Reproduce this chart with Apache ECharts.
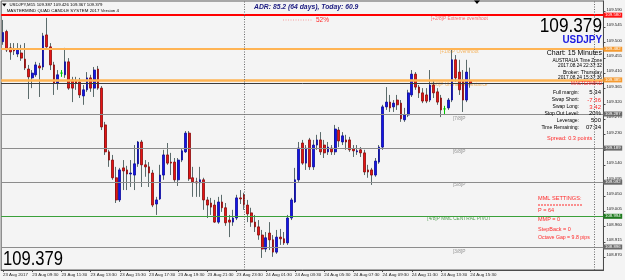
<!DOCTYPE html>
<html><head><meta charset="utf-8">
<style>html,body{margin:0;padding:0;background:#f4f4f4}#c{width:625px;height:280px}</style>
<script src="https://cdn.jsdelivr.net/npm/echarts@6/dist/echarts.min.js"></script>
</head><body><div id="c"></div>
<script>
// ---- DATA (USDJPY M15, 23 Aug 07:30 -> 24 Aug 15:30) ----
const openP = [109.502,109.532,109.484,109.481,109.466,109.469,109.451,109.422,109.396,109.405,109.431,109.428,109.522,109.487,109.434,109.381,109.410,109.405,109.443,109.390,109.387,109.384,109.343,109.361,109.396,109.366,109.422,109.366,109.258,109.179,109.155,109.103,109.038,109.132,109.126,109.114,109.111,109.144,109.208,109.141,109.135,109.117,109.026,109.041,109.111,109.170,109.149,109.149,109.097,109.155,109.179,109.234,109.103,109.091,109.088,109.097,109.038,109.029,109.023,108.973,109.032,109.015,108.979,108.973,108.985,109.044,109.053,109.023,109.000,108.973,108.959,108.935,108.894,108.941,108.921,108.885,108.929,108.924,108.912,108.985,109.032,109.097,109.205,109.146,109.214,109.135,109.199,109.214,109.199,109.179,109.190,109.179,109.243,109.208,109.214,109.214,109.188,109.179,109.185,109.176,109.126,109.126,109.111,109.149,109.193,109.311,109.325,109.311,109.331,109.322,109.273,109.287,109.346,109.407,109.369,109.352,109.346,109.331,109.375,109.355,109.337,109.305,109.308,109.331,109.449,109.413,109.390,109.331,109.387];
const closeP = [109.529,109.478,109.472,109.475,109.481,109.454,109.425,109.399,109.410,109.434,109.425,109.519,109.487,109.434,109.381,109.405,109.410,109.443,109.366,109.366,109.381,109.346,109.361,109.396,109.366,109.419,109.366,109.252,109.179,109.155,109.103,109.038,109.126,109.123,109.114,109.117,109.144,109.208,109.141,109.135,109.117,109.023,109.038,109.111,109.170,109.146,109.146,109.097,109.155,109.182,109.234,109.100,109.091,109.088,109.097,109.038,109.023,109.017,108.973,109.032,109.015,108.971,108.973,108.985,109.044,109.041,109.023,108.997,108.973,108.959,108.935,108.894,108.927,108.921,108.885,108.929,108.924,108.912,108.985,109.038,109.097,109.190,109.146,109.190,109.135,109.199,109.214,109.179,109.176,109.193,109.179,109.246,109.211,109.226,109.208,109.185,109.182,109.182,109.176,109.120,109.120,109.111,109.152,109.193,109.311,109.325,109.308,109.322,109.317,109.276,109.287,109.352,109.407,109.369,109.352,109.328,109.328,109.375,109.352,109.325,109.302,109.305,109.331,109.449,109.396,109.361,109.331,109.413,109.379];
const lowP = [109.493,109.472,109.449,109.463,109.457,109.446,109.419,109.334,109.366,109.399,109.340,109.419,109.484,109.419,109.346,109.361,109.399,109.396,109.361,109.325,109.361,109.337,109.317,109.355,109.355,109.340,109.361,109.243,109.170,109.135,109.097,109.029,109.032,109.067,109.067,109.076,109.067,109.135,109.076,109.106,109.076,109.017,108.994,109.038,109.097,109.141,109.111,109.091,109.079,109.149,109.176,109.094,109.047,109.047,109.047,109.009,108.985,108.994,108.971,108.968,109.003,108.962,108.929,108.962,108.979,109.026,109.009,108.973,108.959,108.944,108.921,108.868,108.885,108.891,108.871,108.880,108.906,108.906,108.906,108.979,109.029,109.091,109.141,109.126,109.126,109.126,109.185,109.170,109.161,109.170,109.170,109.170,109.193,109.199,109.185,109.179,109.164,109.170,109.164,109.111,109.103,109.082,109.106,109.144,109.185,109.302,109.296,109.296,109.302,109.267,109.267,109.281,109.340,109.361,109.337,109.322,109.322,109.325,109.337,109.317,109.281,109.287,109.302,109.325,109.384,109.346,109.296,109.325,109.367];
const highP = [109.566,109.537,109.498,109.498,109.498,109.493,109.498,109.434,109.419,109.443,109.440,109.528,109.572,109.498,109.443,109.419,109.419,109.484,109.454,109.399,109.399,109.396,109.375,109.413,109.405,109.428,109.431,109.372,109.267,109.185,109.170,109.135,109.132,109.155,109.138,109.155,109.199,109.211,109.214,109.155,109.149,109.126,109.047,109.141,109.185,109.205,109.176,109.161,109.161,109.190,109.240,109.240,109.135,109.103,109.135,109.103,109.047,109.044,109.038,109.047,109.053,109.029,108.994,109.009,109.053,109.067,109.059,109.038,109.015,108.994,108.979,108.950,108.944,108.973,108.935,108.950,108.953,108.944,108.994,109.044,109.132,109.208,109.214,109.199,109.220,109.214,109.229,109.237,109.214,109.208,109.199,109.258,109.252,109.237,109.229,109.223,109.199,109.199,109.193,109.185,109.141,109.132,109.161,109.199,109.317,109.369,109.346,109.331,109.346,109.331,109.308,109.361,109.419,109.413,109.375,109.366,109.366,109.419,109.390,109.366,109.346,109.314,109.337,109.478,109.463,109.449,109.419,109.449,109.426];
const xTickLabels = ["23 Aug 2017","23 Aug 09:30","23 Aug 11:30","23 Aug 13:30","23 Aug 15:30","23 Aug 17:30","23 Aug 19:30","23 Aug 21:30","23 Aug 23:30","24 Aug 01:30","24 Aug 03:30","24 Aug 05:30","24 Aug 07:30","24 Aug 09:30","24 Aug 11:30","24 Aug 13:30","24 Aug 15:30"];
const yTickValues = [108.870,108.915,108.960,109.005,109.050,109.095,109.140,109.185,109.230,109.275,109.320,109.365,109.410,109.455,109.500,109.545,109.590];
const levelValues = [109.580,109.482,109.385,109.287,109.189,109.092,108.994,108.896];
const levelNames = ["[+2/8]P Extreme overshoot","[+1/8]P Overshoot","[8/8]P Ultimate Resistance","[7/8]P","[6/8]P","[5/8]P","[4/8]P MML CENTRAL PIVOT","[3/8]P"];
const bidPrice = 109.379;

// ---- STYLE ----
const F = '"Liberation Sans", Arial, sans-serif';
const levelColors = ['#ff0000','#ffb454','#ffb454','#8c8c8c','#8c8c8c','#8c8c8c','#3aa03a','#8c8c8c'];
const levelWidths = [2,2,2.5,1.2,1.2,1.2,1.2,1.2];
const levelText = ['#ff4a4a','#f5a640','#f5a640','#7a7a7a','#7a7a7a','#7a7a7a','#2e8e2e','#7a7a7a'];
const boxColors = ['#ff1010','#f59a30','#f59a30','#6a6a6a','#6a6a6a','#6a6a6a','#1e7a1e','#6a6a6a'];
const NCAT = 165, STEP = 8, LABEL_IDX = 125, DAY_SEP = 66, SHIFT_SEP = 162;
const doji = '#00c800', wick = '#5b6b6b';

const cats = Array.from({length: NCAT}, (_, i) => String(i));
const wickData = openP.map((o, i) => {
  const it = {value: [o, o, lowP[i], highP[i]]};
  if (o === closeP[i]) it.itemStyle = {color: doji, color0: doji, borderColor: doji, borderColor0: doji};
  return it;
});
const bodyData = openP.map((o, i) => {
  const c = closeP[i];
  const it = {value: [o, c, Math.min(o, c), Math.max(o, c)]};
  if (o === c) it.itemStyle = {color: doji, color0: doji, borderColor: doji, borderColor0: doji, borderWidth: 1};
  return it;
});

const markData = levelValues.map((v, k) => ({
  yAxis: v,
  lineStyle: {color: levelColors[k], width: levelWidths[k], type: 'solid'},
  label: {show: true, position: 'end', distance: 0, formatter: v.toFixed(3), color: '#fff',
    backgroundColor: boxColors[k], fontSize: 4.3, fontFamily: F, padding: [0.6, 1.6, 0.4, 1.6]}
}));
markData.unshift({yAxis: bidPrice, lineStyle: {color: '#3c3c3c', width: 1, type: 'solid'}, label: {show: false}});
markData.push({xAxis: DAY_SEP, lineStyle: {color: '#6a6a6a', width: 1, type: [1, 1.5]}, label: {show: false}});
markData.push({xAxis: SHIFT_SEP, lineStyle: {color: '#6a6a6a', width: 1, type: [1, 1.5]}, label: {show: false}});

function T(text, x, y, size, fill, o) {
  o = o || {};
  return {type: 'text', x: x, y: y, scaleX: o.sx || 1, z: 100, silent: true,
    style: {text: text, fill: fill, fontSize: size, fontFamily: F,
      fontWeight: o.bold ? 'bold' : 'normal', fontStyle: o.italic ? 'italic' : 'normal',
      align: o.align || 'left', textAlign: o.align || 'left', verticalAlign: 'middle', textVerticalAlign: 'middle'}};
}
const red = '#ff2a2a';
const graphics = [
  {type: 'polygon', shape: {points: [[2, 3.5], [6.5, 3.5], [4.25, 6.5]]}, style: {fill: '#000'}, z: 100},
  T('USDJPY,M15 109.387 109.426 109.367 109.379', 9.5, 5.2, 4.3, '#000'),
  T('MASTERMIND QUAD CANDLE SYSTEM 2017 Version 4', 6.7, 11, 4.4, '#000'),
  T('ADR: 85.2 (64 days), Today: 60.9', 254, 6.7, 6.8, '#1a1a80', {bold: true, italic: true}),
  {type: 'polygon', shape: {points: [[474, 0.5], [480, 0.5], [477, 4]]}, style: {fill: '#000'}, z: 100},
  {type: 'line', shape: {x1: 283, y1: 20, x2: 313, y2: 20}, style: {stroke: '#f59a9a', lineWidth: 1, lineDash: [1, 1.5]}, z: 100},
  T('52%', 316, 20, 6.5, red),
  T('109.379', 602, 26, 21, '#000', {align: 'right', sx: 0.82}),
  T('USDJPY', 602, 39.5, 11, '#1a1ae0', {align: 'right', bold: true, sx: 0.9}),
  T('Chart: 15 Minutes', 602, 52.8, 7, '#000', {align: 'right'}),
  T('AUSTRALIA Time Zone', 602, 60.7, 4.7, '#000', {align: 'right'}),
  T('2017.08.24 22:37:32', 602, 65.2, 4.8, '#000', {align: 'right'}),
  T('Broker: Thursday', 602, 72.7, 5.1, '#000', {align: 'right'}),
  T('2017.08.24 15:37:36', 602, 77.2, 4.8, '#000', {align: 'right'}),
  T('MASTERMIND', 602, 83.5, 4.6, red, {align: 'right'}),
  T('Full margin:', 579, 92.8, 5, '#000', {align: 'right'}),
  T('5.34', 601, 92.8, 6, '#000', {align: 'right'}),
  T('Swap Short:', 579, 100, 5, '#000', {align: 'right'}),
  T('-7.36', 601, 100, 6, red, {align: 'right'}),
  T('Swap Long:', 579, 107, 5, '#000', {align: 'right'}),
  T('3.42', 601, 107, 6, red, {align: 'right'}),
  T('Stop Out Level:', 579, 113.5, 5, '#000', {align: 'right'}),
  T('20%', 601, 113.5, 6, '#000', {align: 'right'}),
  T('Leverage:', 579, 120.7, 5, '#000', {align: 'right'}),
  T('500', 601, 120.7, 6, '#000', {align: 'right'}),
  T('Time Remaining:', 579, 127.3, 5, '#000', {align: 'right'}),
  T('07:34', 601, 127.3, 6, '#000', {align: 'right'}),
  T('Spread: 0.3 points', 547, 138, 5.6, red),
  T('MML SETTINGS:', 538, 198.7, 5.6, red),
  {type: 'line', shape: {x1: 538, y1: 205, x2: 583, y2: 205}, style: {stroke: red, lineWidth: 1, lineDash: [2, 1]}, z: 100},
  T('P = 64', 538, 210, 5.5, red),
  T('MMP = 0', 538, 219, 5.5, red),
  T('StepBack = 0', 538, 229, 5.5, red),
  T('Octave Gap = 9.8 pips', 538, 237.5, 5.2, red),
  T('109.379', 3, 259.5, 20, '#000', {sx: 0.83})
];

const chart = echarts.init(document.getElementById('c'), null, {renderer: 'canvas'});
chart.setOption({
  animation: false,
  backgroundColor: '#f4f4f4',
  textStyle: {fontFamily: F},
  grid: {left: 0, right: 20, top: 1, bottom: 10, show: true, borderColor: '#5a5a5a', borderWidth: 1, backgroundColor: '#f4f4f4'},
  xAxis: {
    type: 'category', data: cats, boundaryGap: true,
    axisLine: {lineStyle: {color: '#4a4a4a'}},
    axisTick: {show: true, alignWithLabel: true, length: 2, interval: (i) => i % STEP === 0 && i / STEP < xTickLabels.length, lineStyle: {color: '#4a4a4a'}},
    axisLabel: {interval: (i) => i % STEP === 0 && i / STEP < xTickLabels.length,
      formatter: (v, i) => xTickLabels[Math.round(Number(v) / STEP)] || '',
      fontSize: 4.4, color: '#222', align: 'left', margin: 2.5, fontFamily: F},
    splitLine: {show: false}
  },
  yAxis: {
    type: 'value', position: 'right', min: 108.8325, max: 109.6215, scale: true,
    axisLine: {show: true, lineStyle: {color: '#4a4a4a'}},
    axisTick: {show: true, length: 2, customValues: yTickValues, lineStyle: {color: '#4a4a4a'}},
    axisLabel: {customValues: yTickValues, formatter: (v) => Number(v).toFixed(3), fontSize: 4.3, color: '#222', margin: 3, verticalAlign: 'bottom', fontFamily: F},
    splitLine: {show: false}
  },
  series: [
    {type: 'line', data: [], z: 1, silent: true,
      markLine: {silent: true, symbol: ['none', 'none'], animation: false, data: markData}},
    {type: 'scatter', z: 2, silent: true, symbolSize: 0,
      data: levelValues.map((v, k) => ({value: [LABEL_IDX, v], label: {show: true, formatter: levelNames[k], color: levelText[k]}})),
      label: {show: true, position: 'bottom', distance: 1, fontSize: 4.8, fontFamily: F}},
    {type: 'candlestick', z: 3, silent: true, barWidth: 1, data: wickData,
      itemStyle: {color: wick, color0: wick, borderColor: wick, borderColor0: wick, borderWidth: 1}},
    {type: 'candlestick', z: 4, silent: true, barWidth: 2.2, data: bodyData,
      itemStyle: {color: '#1414e6', color0: '#e61414', borderColor: '#0a0a9a', borderColor0: '#8a0a0a', borderWidth: 0.8}}
  ],
  graphic: graphics
});
</script>
</body></html>
